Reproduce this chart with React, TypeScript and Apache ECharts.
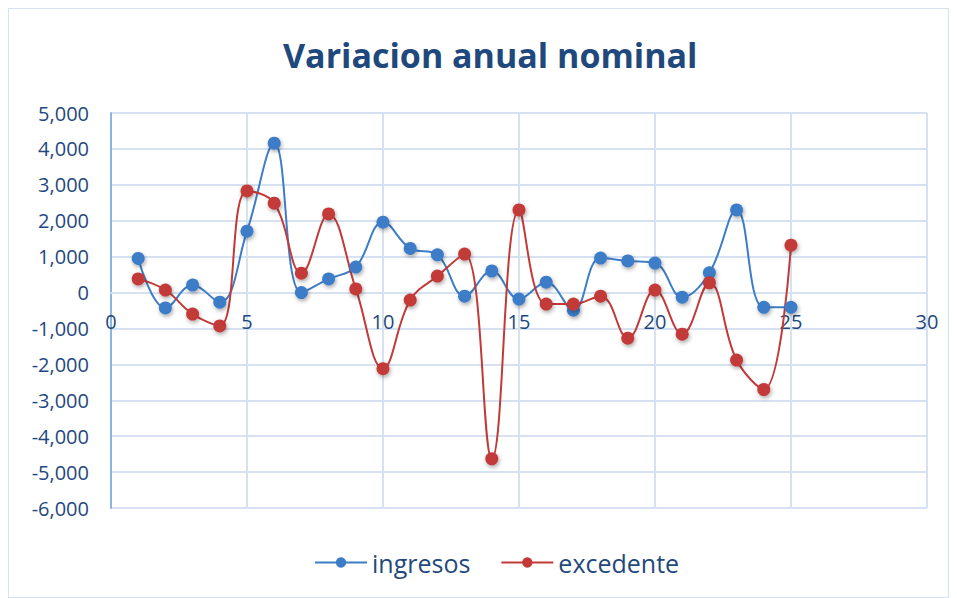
import React, { useEffect, useRef } from "react";
import * as echarts from "echarts";

const xValues = [1, 2, 3, 4, 5, 6, 7, 8, 9, 10, 11, 12, 13, 14, 15, 16, 17, 18, 19, 20, 21, 22, 23, 24, 25];
const ingresos = [950, -430, 210, -270, 1710, 4160, 0, 380, 710, 1960, 1230, 1050, -100, 600, -180, 290, -490, 960, 880, 820, -130, 550, 2300, -410, -410];
const excedente = [380, 70, -600, -930, 2830, 2490, 540, 2190, 100, -2120, -210, 460, 1070, -4630, 2300, -320, -320, -100, -1270, 70, -1160, 270, -1880, -2700, 1320];
const seriesNames = ["ingresos", "excedente"];
const titleText = "Variacion anual nominal";

const BLUE = "#3D7CC6";
const RED = "#C23A38";
const TEXT = "#1F497D";
const GRID = "#D6E2F2";

const CHART_H = 588;
const GRID_TOP = 104;
const GRID_BOTTOM = 89;
const Y_MIN = -6000;
const Y_MAX = 5000;

export default function App() {
  const ref = useRef<HTMLDivElement>(null);
  useEffect(() => {
    if (!ref.current) return;
    const chart = echarts.init(ref.current, null, { renderer: "svg" });
    const mk = (vals: number[]) => xValues.map((x, i) => [x, vals[i]]);
    const gridH = CHART_H - GRID_TOP - GRID_BOTTOM;
    const zeroOffset = (gridH * (0 - Y_MIN)) / (Y_MAX - Y_MIN);
    const seriesStyle = (name: string, data: number[][], color: string) => ({
      name,
      type: "line",
      data,
      smooth: 0.4,
      symbol: "circle",
      symbolSize: 13,
      lineStyle: { color, width: 2 },
      itemStyle: {
        color,
        shadowBlur: 4,
        shadowColor: "rgba(0,0,0,0.35)",
        shadowOffsetX: 1,
        shadowOffsetY: 2,
      },
    });
    chart.setOption({
      animation: false,
      backgroundColor: "#fff",
      title: {
        text: titleText,
        left: 269,
        top: 24,
        textStyle: {
          fontFamily: "Open Sans",
          fontWeight: "bold",
          fontSize: 34,
          color: TEXT,
        },
      },
      legend: {
        bottom: 17,
        left: 300,
        itemWidth: 52,
        itemHeight: 13,
        itemGap: 30,
        textStyle: { fontFamily: "Open Sans", fontSize: 25, color: TEXT },
        data: seriesNames,
      },
      grid: { left: 102, right: 21, top: GRID_TOP, bottom: GRID_BOTTOM, containLabel: false },
      xAxis: {
        type: "value",
        min: 0,
        max: 30,
        interval: 5,
        offset: -zeroOffset,
        axisLine: { onZero: false, lineStyle: { color: GRID, width: 2 } },
        axisTick: { show: false },
        axisLabel: {
          margin: 19,
          fontFamily: "Open Sans",
          fontSize: 20,
          color: TEXT,
        },
        splitLine: { show: true, lineStyle: { color: GRID, width: 2 } },
      },
      yAxis: {
        type: "value",
        min: Y_MIN,
        max: Y_MAX,
        interval: 1000,
        axisLine: { show: true, onZero: false, lineStyle: { color: "#8DB3E2", width: 2 } },
        axisTick: { show: false },
        axisLabel: {
          margin: 22,
          fontFamily: "Open Sans",
          fontSize: 20,
          color: TEXT,
          formatter: (v: number) => v.toLocaleString("en-US"),
        },
        splitLine: { show: true, lineStyle: { color: GRID, width: 2 } },
      },
      series: [
        seriesStyle(seriesNames[0], mk(ingresos), BLUE),
        seriesStyle(seriesNames[1], mk(excedente), RED),
      ],
    });
    return () => chart.dispose();
  }, []);
  return (
    <div
      style={{
        width: 941,
        height: 590,
        border: "1px solid #D6E2F2",
        boxSizing: "border-box",
      }}
    >
      <div ref={ref} style={{ width: 939, height: CHART_H }} />
    </div>
  );
}
